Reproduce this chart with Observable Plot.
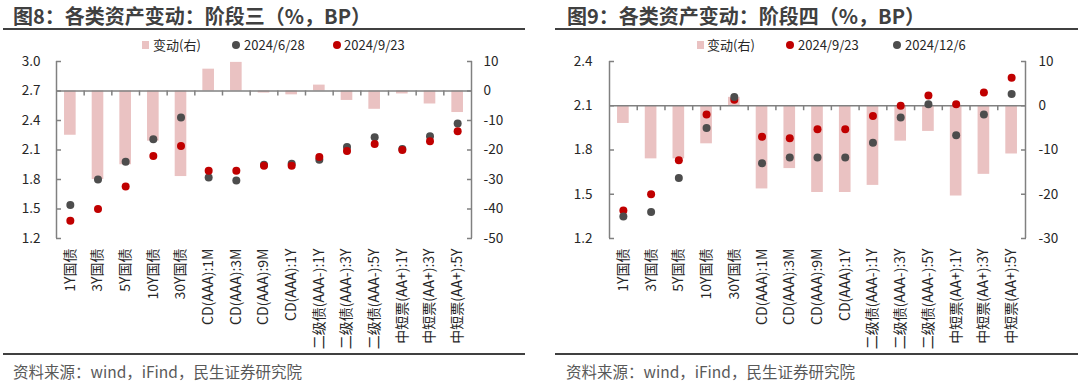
<!DOCTYPE html>
<html>
<head>
<meta charset="utf-8">
<script src="https://cdn.jsdelivr.net/npm/d3@7"></script>
<script src="https://cdn.jsdelivr.net/npm/@observablehq/plot@0.6"></script>
<style>
  html, body { margin: 0; padding: 0; background: #fff; }
  body { width: 1080px; height: 388px; position: relative; overflow: hidden;
         font-family: "Noto Sans CJK SC", "Noto Sans", sans-serif; }
  .abs { position: absolute; white-space: nowrap; }
  .hdr { font-size: 20px; font-weight: 700; color: #404040; line-height: 26px; top: 3px; }
  .rule { height: 2px; background: #404040; }
  .src { font-size: 15.5px; color: #595959; line-height: 20px; top: 361px; }
  .leg { font-size: 13px; color: #262626; line-height: 16px; top: 37px; }
  .sq { width: 7px; height: 8px; background: #EAC2C2; top: 41px; }
  .dot { width: 8px; height: 8px; border-radius: 50%; top: 41px; }
  .panel { position: absolute; top: 50px; }
</style>
</head>
<body>
<div class="abs hdr" style="left:13px">图8：各类资产变动：阶段三（%，BP）</div>
<div class="abs hdr" style="left:567px">图9：各类资产变动：阶段四（%，BP）</div>
<div class="abs rule" style="left:3px;top:28px;width:522px"></div>
<div class="abs rule" style="left:555px;top:28px;width:523px"></div>

<div class="abs sq" style="left:142px"></div>
<div class="abs leg" style="left:153px">变动(右)</div>
<div class="abs dot" style="left:232px;background:#4D4D4D"></div>
<div class="abs leg" style="left:244px">2024/6/28</div>
<div class="abs dot" style="left:333px;background:#C00000"></div>
<div class="abs leg" style="left:344px">2024/9/23</div>

<div class="abs sq" style="left:697px"></div>
<div class="abs leg" style="left:707px">变动(右)</div>
<div class="abs dot" style="left:786px;background:#C00000"></div>
<div class="abs leg" style="left:798px">2024/9/23</div>
<div class="abs dot" style="left:893px;background:#4D4D4D"></div>
<div class="abs leg" style="left:905px">2024/12/6</div>

<div id="p3" class="panel" style="left:0px"></div>
<div id="p4" class="panel" style="left:540px"></div>

<div class="abs rule" style="left:3px;top:353px;width:522px"></div>
<div class="abs rule" style="left:555px;top:353px;width:523px"></div>
<div class="abs src" style="left:13px">资料来源：wind，iFind，民生证券研究院</div>
<div class="abs src" style="left:566px">资料来源：wind，iFind，民生证券研究院</div>

<script>
const cats = ["1Y国债","3Y国债","5Y国债","10Y国债","30Y国债","CD(AAA):1M","CD(AAA):3M","CD(AAA):9M","CD(AAA):1Y","二级债(AAA-):1Y","二级债(AAA-):3Y","二级债(AAA-):5Y","中短票(AA+):1Y","中短票(AA+):3Y","中短票(AA+):5Y"];

// Stage 3
const s3Jun28 = [1.54,1.80,1.98,2.21,2.43,1.82,1.79,1.95,1.96,2.00,2.13,2.23,2.11,2.24,2.37];
const s3Sep23 = [1.38,1.50,1.73,2.04,2.14,1.89,1.89,1.94,1.94,2.03,2.09,2.16,2.10,2.19,2.29];
const s3Chg   = [-15,-30,-25,-17,-29,7.4,9.7,-0.7,-1.3,2.0,-3.2,-6.2,-1.0,-4.4,-7.3];
const s3Left  = [1.2,1.5,1.8,2.1,2.4,2.7,3.0];
const s3Right = [10,0,-10,-20,-30,-40,-50];

// Stage 4
const s4Sep23 = [1.39,1.50,1.73,2.04,2.14,1.89,1.88,1.94,1.94,2.03,2.10,2.17,2.11,2.19,2.29];
const s4Dec06 = [1.35,1.38,1.61,1.95,2.16,1.71,1.75,1.75,1.75,1.85,2.02,2.11,1.90,2.04,2.18];
const s4Chg   = [-4,-12,-12,-8.6,1.9,-18.8,-14.2,-19.6,-19.6,-18,-8,-5.8,-20.4,-15.5,-10.9];
const s4Left  = [1.2,1.5,1.8,2.1,2.4];
const s4Right = [10,0,-10,-20,-30];

const GREY = "#4D4D4D", RED = "#C00000", PINK = "#EAC2C2", AXIS = "#808080", TXT = "#262626";

function panel({left, right, base, k, chg, series, marginLeft, marginRight, lp, rp}) {
  const W = 540;
  const step = (W - marginLeft - marginRight) / cats.length;
  const ymin = left[0], ymax = left[left.length - 1];
  const rows = cats.map((c, i) => ({c, v: chg[i]}));
  const marks = [
    Plot.barY(rows, {x: "c", y1: base, y2: d => base + d.v * k, fill: PINK}),
    Plot.ruleY([base], {stroke: AXIS, strokeWidth: 1.5}),
    Plot.ruleX(cats.slice(0, -1), {x: d => d, y1: base, y2: base, insetBottom: -5, dx: step / 2, stroke: AXIS, strokeWidth: 1.5}),
    Plot.ruleX([cats[0]], {x: d => d, y1: ymin, y2: ymax, dx: -step / 2, stroke: AXIS, strokeWidth: 1.5}),
    Plot.ruleX([cats[cats.length - 1]], {x: d => d, y1: ymin, y2: ymax, dx: step / 2, stroke: AXIS, strokeWidth: 1.5}),
  ];
  for (const s of series) {
    marks.push(Plot.dot(cats, {x: d => d, y: (d, i) => s.values[i], r: 4, fill: s.color}));
  }
  marks.push(
    Plot.axisY(left, {anchor: "left", tickSize: -5, tickPadding: lp, tickFormat: d => d.toFixed(1), label: null, fontSize: 13.5, stroke: AXIS, strokeWidth: 1.5, fill: TXT}),
    Plot.axisY(right.map(t => base + t * k), {anchor: "right", tickSize: -5, tickPadding: rp, tickFormat: d => String(Math.round((d - base) / k)), label: null, fontSize: 13.5, stroke: AXIS, strokeWidth: 1.5, fill: TXT}),
    Plot.axisX({anchor: "bottom", tickSize: 0, tickRotate: -90, tickPadding: 10, label: null, fontSize: 14, fill: TXT})
  );
  return Plot.plot({
    width: W, height: 300,
    marginTop: 11, marginBottom: 112, marginLeft, marginRight,
    style: {fontFamily: "'Noto Sans CJK SC', sans-serif", fontSize: "13px", color: TXT, background: "transparent"},
    x: {type: "band", domain: cats, paddingInner: 0.58, paddingOuter: 0.29, round: false},
    y: {domain: [ymin, ymax]},
    marks
  });
}

document.getElementById("p3").append(panel({
  left: s3Left, right: s3Right, base: 2.7, k: 0.03, chg: s3Chg,
  series: [{values: s3Jun28, color: GREY}, {values: s3Sep23, color: RED}],
  marginLeft: 56, marginRight: 69, lp: 21, rp: 17
}));
document.getElementById("p4").append(panel({
  left: s4Left, right: s4Right, base: 2.1, k: 0.03, chg: s4Chg,
  series: [{values: s4Sep23, color: RED}, {values: s4Dec06, color: GREY}],
  marginLeft: 69, marginRight: 55, lp: 22, rp: 18
}));
</script>
</body>
</html>
